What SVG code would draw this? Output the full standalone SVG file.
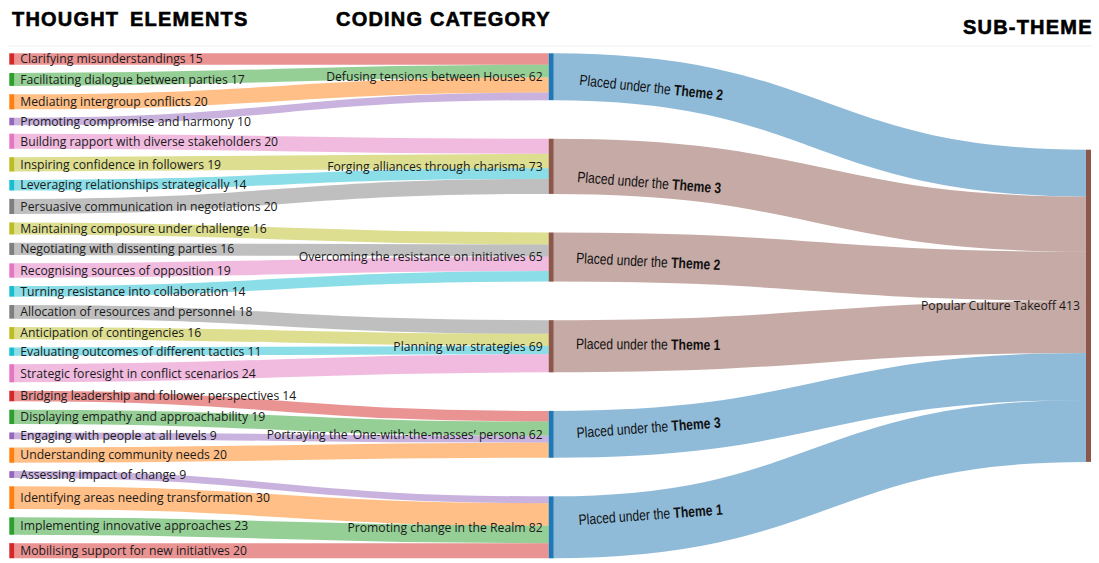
<svg xmlns="http://www.w3.org/2000/svg" width="1099" height="563" viewBox="0 0 1099 563">
  <style>
    .title { font-family: "Liberation Sans", Arial, sans-serif; font-weight: bold; font-size: 20px; letter-spacing: 1.2px; fill: #000; stroke: #000; stroke-width: 0.6px; }
    .lbl { font-family: "Open Sans", "Noto Sans", sans-serif; font-size: 12.2px; fill: #1a1a1a; }
    .lbl-end { text-anchor: end; }
    .theme { font-family: "Liberation Sans", Arial, sans-serif; font-size: 15px; fill: #111; }
    .theme tspan.b { font-weight: bold; }
    .lk { fill: none; stroke-opacity: 0.5; }
    .red { fill: #d62728; stroke: #d62728; }
    .green { fill: #2ca02c; stroke: #2ca02c; }
    .orange { fill: #ff7f0e; stroke: #ff7f0e; }
    .purple { fill: #9467bd; stroke: #9467bd; }
    .pink { fill: #e377c2; stroke: #e377c2; }
    .olive { fill: #bcbd22; stroke: #bcbd22; }
    .cyan { fill: #17becf; stroke: #17becf; }
    .grey { fill: #7f7f7f; stroke: #7f7f7f; }
    .blue { fill: #1f77b4; stroke: #1f77b4; }
    .brown { fill: #8c564b; stroke: #8c564b; }
    .lk.red, .lk.green, .lk.orange, .lk.purple, .lk.pink, .lk.olive, .lk.cyan, .lk.grey, .lk.blue, .lk.brown { fill: none; }
    rect.node { stroke: none; }
  </style>

  <rect x="0" y="0" width="1099" height="563" fill="#ffffff"/>
  <line x1="8" y1="46" x2="1092" y2="46" stroke="#f0f0f0" stroke-width="1"/>

  <!-- column headings -->
  <text class="title" x="12" y="26" word-spacing="4">THOUGHT ELEMENTS</text>
  <text class="title" x="336" y="26">CODING CATEGORY</text>
  <text class="title" x="963" y="34">SUB-THEME</text>

  <!-- connectors -->
  <g id="links">
    <!-- thought elements -> coding categories -->
    <path class="lk red" stroke-width="11.34" d="M14.3,58.97 C281.5,58.97 281.5,58.97 548.7,58.97"/>
    <path class="lk green" stroke-width="12.85" d="M14.3,79.45 C281.5,79.45 281.5,71.07 548.7,71.07"/>
    <path class="lk orange" stroke-width="15.12" d="M14.3,101.81 C281.5,101.81 281.5,85.05 548.7,85.05"/>
    <path class="lk purple" stroke-width="7.56" d="M14.3,121.53 C281.5,121.53 281.5,96.39 548.7,96.39"/>
    <path class="lk pink" stroke-width="15.12" d="M14.3,141.25 C281.5,141.25 281.5,146.29 548.7,146.29"/>
    <path class="lk olive" stroke-width="14.36" d="M14.3,164.37 C281.5,164.37 281.5,161.03 548.7,161.03"/>
    <path class="lk cyan" stroke-width="10.58" d="M14.3,185.22 C281.5,185.22 281.5,173.50 548.7,173.50"/>
    <path class="lk grey" stroke-width="15.12" d="M14.3,206.45 C281.5,206.45 281.5,186.35 548.7,186.35"/>
    <path class="lk olive" stroke-width="12.10" d="M14.3,228.44 C281.5,228.44 281.5,238.53 548.7,238.53"/>
    <path class="lk grey" stroke-width="12.10" d="M14.3,248.92 C281.5,248.92 281.5,250.63 548.7,250.63"/>
    <path class="lk pink" stroke-width="14.36" d="M14.3,270.53 C281.5,270.53 281.5,263.86 548.7,263.86"/>
    <path class="lk cyan" stroke-width="10.58" d="M14.3,291.38 C281.5,291.38 281.5,276.33 548.7,276.33"/>
    <path class="lk grey" stroke-width="13.61" d="M14.3,311.86 C281.5,311.86 281.5,326.99 548.7,326.99"/>
    <path class="lk olive" stroke-width="12.10" d="M14.3,333.09 C281.5,333.09 281.5,339.84 548.7,339.84"/>
    <path class="lk cyan" stroke-width="8.32" d="M14.3,351.68 C281.5,351.68 281.5,350.05 548.7,350.05"/>
    <path class="lk pink" stroke-width="18.14" d="M14.3,373.29 C281.5,373.29 281.5,363.28 548.7,363.28"/>
    <path class="lk red" stroke-width="10.58" d="M14.3,396.03 C281.5,396.03 281.5,416.19 548.7,416.19"/>
    <path class="lk green" stroke-width="14.36" d="M14.3,416.88 C281.5,416.88 281.5,428.66 548.7,428.66"/>
    <path class="lk purple" stroke-width="6.80" d="M14.3,435.84 C281.5,435.84 281.5,439.24 548.7,439.24"/>
    <path class="lk orange" stroke-width="15.12" d="M14.3,455.18 C281.5,455.18 281.5,450.20 548.7,450.20"/>
    <path class="lk purple" stroke-width="6.80" d="M14.3,474.52 C281.5,474.52 281.5,499.73 548.7,499.73"/>
    <path class="lk orange" stroke-width="22.68" d="M14.3,497.64 C281.5,497.64 281.5,514.47 548.7,514.47"/>
    <path class="lk green" stroke-width="17.39" d="M14.3,526.06 C281.5,526.06 281.5,534.51 548.7,534.51"/>
    <path class="lk red" stroke-width="15.12" d="M14.3,550.69 C281.5,550.69 281.5,550.76 548.7,550.76"/>

    <!-- coding categories -> sub-theme -->
    <path class="lk blue" stroke-width="46.87" d="M553.7,76.74 C819.9,76.74 819.9,173.13 1086,173.13"/>
    <path class="lk brown" stroke-width="55.19" d="M553.7,166.33 C819.9,166.33 819.9,224.17 1086,224.17"/>
    <path class="lk brown" stroke-width="49.14" d="M553.7,257.05 C819.9,257.05 819.9,276.33 1086,276.33"/>
    <path class="lk brown" stroke-width="52.16" d="M553.7,346.26 C819.9,346.26 819.9,326.98 1086,326.98"/>
    <path class="lk blue" stroke-width="46.87" d="M553.7,434.34 C819.9,434.34 819.9,376.50 1086,376.50"/>
    <path class="lk blue" stroke-width="61.99" d="M553.7,527.33 C819.9,527.33 819.9,430.93 1086,430.93"/>

    <!-- connector labels -->
    <text class="theme" transform="translate(579,85) rotate(6) scale(0.81,1)">Placed under the <tspan class="b">Theme 2</tspan></text>
    <text class="theme" transform="translate(577,182) rotate(4.5) scale(0.81,1)">Placed under the <tspan class="b">Theme 3</tspan></text>
    <text class="theme" transform="translate(576,263) rotate(2.8) scale(0.81,1)">Placed under the <tspan class="b">Theme 2</tspan></text>
    <text class="theme" transform="translate(576,349) rotate(0.4) scale(0.81,1)">Placed under the <tspan class="b">Theme 1</tspan></text>
    <text class="theme" transform="translate(577,438) rotate(-4.2) scale(0.81,1)">Placed under the <tspan class="b">Theme 3</tspan></text>
    <text class="theme" transform="translate(579,525) rotate(-4.2) scale(0.81,1)">Placed under the <tspan class="b">Theme 1</tspan></text>
  </g>

  <!-- thought elements -->
  <g id="n-clarifying"><rect class="node red" x="9.3" y="53.3" width="5" height="11.34"/><text class="lbl" x="20.3" y="58.97" dy="0.35em">Clarifying misunderstandings 15</text></g>
  <g id="n-facilitating"><rect class="node green" x="9.3" y="73.02" width="5" height="12.85"/><text class="lbl" x="20.3" y="79.45" dy="0.35em">Facilitating dialogue between parties 17</text></g>
  <g id="n-mediating"><rect class="node orange" x="9.3" y="94.25" width="5" height="15.12"/><text class="lbl" x="20.3" y="101.81" dy="0.35em">Mediating intergroup conflicts 20</text></g>
  <g id="n-compromise"><rect class="node purple" x="9.3" y="117.75" width="5" height="7.56"/><text class="lbl" x="20.3" y="121.53" dy="0.35em">Promoting compromise and harmony 10</text></g>
  <g id="n-rapport"><rect class="node pink" x="9.3" y="133.69" width="5" height="15.12"/><text class="lbl" x="20.3" y="141.25" dy="0.35em">Building rapport with diverse stakeholders 20</text></g>
  <g id="n-inspiring"><rect class="node olive" x="9.3" y="157.19" width="5" height="14.36"/><text class="lbl" x="20.3" y="164.37" dy="0.35em">Inspiring confidence in followers 19</text></g>
  <g id="n-leveraging"><rect class="node cyan" x="9.3" y="179.93" width="5" height="10.58"/><text class="lbl" x="20.3" y="185.22" dy="0.35em">Leveraging relationships strategically 14</text></g>
  <g id="n-persuasive"><rect class="node grey" x="9.3" y="198.89" width="5" height="15.12"/><text class="lbl" x="20.3" y="206.45" dy="0.35em">Persuasive communication in negotiations 20</text></g>
  <g id="n-composure"><rect class="node olive" x="9.3" y="222.39" width="5" height="12.10"/><text class="lbl" x="20.3" y="228.44" dy="0.35em">Maintaining composure under challenge 16</text></g>
  <g id="n-negotiating"><rect class="node grey" x="9.3" y="242.87" width="5" height="12.10"/><text class="lbl" x="20.3" y="248.92" dy="0.35em">Negotiating with dissenting parties 16</text></g>
  <g id="n-recognising"><rect class="node pink" x="9.3" y="263.35" width="5" height="14.36"/><text class="lbl" x="20.3" y="270.53" dy="0.35em">Recognising sources of opposition 19</text></g>
  <g id="n-turning"><rect class="node cyan" x="9.3" y="286.09" width="5" height="10.58"/><text class="lbl" x="20.3" y="291.38" dy="0.35em">Turning resistance into collaboration 14</text></g>
  <g id="n-allocation"><rect class="node grey" x="9.3" y="305.05" width="5" height="13.61"/><text class="lbl" x="20.3" y="311.86" dy="0.35em">Allocation of resources and personnel 18</text></g>
  <g id="n-anticipation"><rect class="node olive" x="9.3" y="327.04" width="5" height="12.10"/><text class="lbl" x="20.3" y="333.09" dy="0.35em">Anticipation of contingencies 16</text></g>
  <g id="n-evaluating"><rect class="node cyan" x="9.3" y="347.52" width="5" height="8.32"/><text class="lbl" x="20.3" y="351.68" dy="0.35em">Evaluating outcomes of different tactics 11</text></g>
  <g id="n-foresight"><rect class="node pink" x="9.3" y="364.22" width="5" height="18.14"/><text class="lbl" x="20.3" y="373.29" dy="0.35em">Strategic foresight in conflict scenarios 24</text></g>
  <g id="n-bridging"><rect class="node red" x="9.3" y="390.74" width="5" height="10.58"/><text class="lbl" x="20.3" y="396.03" dy="0.35em">Bridging leadership and follower perspectives 14</text></g>
  <g id="n-empathy"><rect class="node green" x="9.3" y="409.70" width="5" height="14.36"/><text class="lbl" x="20.3" y="416.88" dy="0.35em">Displaying empathy and approachability 19</text></g>
  <g id="n-engaging"><rect class="node purple" x="9.3" y="432.44" width="5" height="6.80"/><text class="lbl" x="20.3" y="435.84" dy="0.35em">Engaging with people at all levels 9</text></g>
  <g id="n-community"><rect class="node orange" x="9.3" y="447.62" width="5" height="15.12"/><text class="lbl" x="20.3" y="455.18" dy="0.35em">Understanding community needs 20</text></g>
  <g id="n-assessing"><rect class="node purple" x="9.3" y="471.12" width="5" height="6.80"/><text class="lbl" x="20.3" y="474.52" dy="0.35em">Assessing impact of change 9</text></g>
  <g id="n-identifying"><rect class="node orange" x="9.3" y="486.30" width="5" height="22.68"/><text class="lbl" x="20.3" y="497.64" dy="0.35em">Identifying areas needing transformation 30</text></g>
  <g id="n-implementing"><rect class="node green" x="9.3" y="517.36" width="5" height="17.39"/><text class="lbl" x="20.3" y="526.06" dy="0.35em">Implementing innovative approaches 23</text></g>
  <g id="n-mobilising"><rect class="node red" x="9.3" y="543.13" width="5" height="15.12"/><text class="lbl" x="20.3" y="550.69" dy="0.35em">Mobilising support for new initiatives 20</text></g>

  <!-- coding categories -->
  <g id="c-defusing"><rect class="node blue" x="548.7" y="53.3" width="5" height="46.87"/><text class="lbl lbl-end" x="542.7" y="76.74" dy="0.35em">Defusing tensions between Houses 62</text></g>
  <g id="c-forging"><rect class="node brown" x="548.7" y="138.73" width="5" height="55.19"/><text class="lbl lbl-end" x="542.7" y="166.33" dy="0.35em">Forging alliances through charisma 73</text></g>
  <g id="c-overcoming"><rect class="node brown" x="548.7" y="232.48" width="5" height="49.14"/><text class="lbl lbl-end" x="542.7" y="257.05" dy="0.35em">Overcoming the resistance on initiatives 65</text></g>
  <g id="c-planning"><rect class="node brown" x="548.7" y="320.18" width="5" height="52.16"/><text class="lbl lbl-end" x="542.7" y="346.26" dy="0.35em">Planning war strategies 69</text></g>
  <g id="c-portraying"><rect class="node blue" x="548.7" y="410.90" width="5" height="46.87"/><text class="lbl lbl-end" x="542.7" y="434.34" dy="0.35em">Portraying the ‘One-with-the-masses’ persona 62</text></g>
  <g id="c-promoting"><rect class="node blue" x="548.7" y="496.33" width="5" height="61.99"/><text class="lbl lbl-end" x="542.7" y="527.33" dy="0.35em">Promoting change in the Realm 82</text></g>

  <!-- sub-theme -->
  <g id="s-popular-culture"><rect class="node brown" x="1086" y="149.7" width="5" height="312.2"/><text class="lbl lbl-end" x="1080" y="305.8" dy="0.35em">Popular Culture Takeoff 413</text></g>
</svg>
